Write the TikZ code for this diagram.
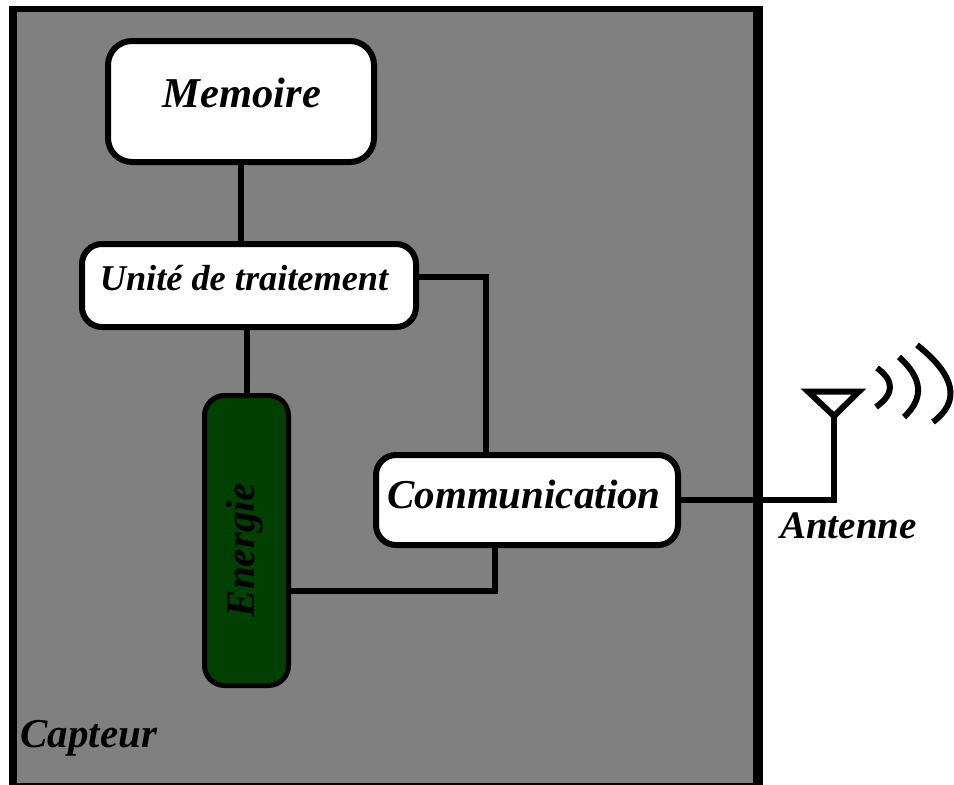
\documentclass[tikz,border=0pt]{standalone}
\usepackage[]{fontspec}
\setmainfont{Liberation Serif}
\usetikzlibrary{positioning}
\definecolor{fondgris}{RGB}{128,128,128}
\definecolor{vertpile}{RGB}{0,64,0}
\tikzset{boite/.style = {draw, fill = white, line width = 6, inner sep = 0, outer sep = 0, rectangle}}
\tikzset{lien/.style = {draw, line width = 6, line join = miter}}
\tikzset{onde/.style = {draw, line width = 6}}
\tikzset{titre/.style = {inner sep = 0, anchor = base, font = \bfseries\itshape\fontsize{41}{41}\selectfont}}
\begin{document}
\begin{tikzpicture}[x=1pt,y=-1pt]
            \useasboundingbox (0,0) rectangle (954,785);
            \clip (0,0) rectangle (954,785);
            \fill [black] (9,6) rectangle (763,785);
            \fill [fondgris] (17,12) rectangle (753,783);
            \node (memoire) [boite,minimum width=266,minimum height=121,rounded corners=24] at (241,101.5) {};
            \node (unite) [boite,minimum width=334,minimum height=83,rounded corners=20] at (249,285.5) {};
            \node (commu) [boite,minimum width=302,minimum height=90,rounded corners=20] at (527,500) {};
            \node (energie) [boite,fill=vertpile,line width=5,minimum width=84,minimum height=290,rounded corners=20] at (246.5,540.5) {};
            \node [titre,font=\bfseries\itshape\fontsize{42.5}{43}\selectfont] at (242,107) {Memoire};
            \node [titre,font=\bfseries\itshape\fontsize{36.3}{37}\selectfont] at (244,290) {Unité de traitement};
            \node [titre] at (524,508) {Communication};
            \node [titre,rotate=90] at (254,550) {Energie};
            \node [titre] at (89,747) {Capteur};
            \node [titre,font=\bfseries\itshape\fontsize{39}{39}\selectfont] at (848.5,538) {Antenne};
            \coordinate (uniteDroite) at (419,277);
            \coordinate (commuHaut) at (486,452);
            \coordinate (commuBas) at (495,548);
            \coordinate (energieDroite) at (291,591);
            \coordinate (antennePied) at (834,416);
            \draw [lien] (memoire.south) -- (memoire.south |- unite.north);
            \draw [lien] (energie.north) -- (energie.north |- unite.south);
            \draw [lien] (uniteDroite) -| (commuHaut);
            \draw [lien] (energieDroite) -| (commuBas);
            \draw [lien] (commu.east) -| (antennePied);
            \draw [lien] (808,391.5) -- (859,391.5) -- (antennePied) -- cycle;
            \draw [onde] (877,368) .. controls (894.7,381) and (894.3,394) .. (876,407);
            \draw [onde] (899,357) .. controls (922.7,378.3) and (924.3,398.3) .. (904,417);
            \draw [onde] (917,345) .. controls (955.7,375.7) and (960.7,401.3) .. (933,422);
        \end{tikzpicture}
\end{document}
